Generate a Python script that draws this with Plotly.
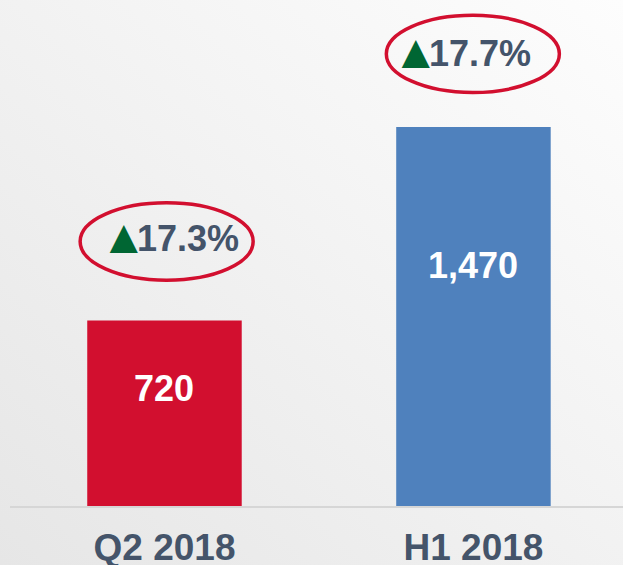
import plotly.graph_objects as go
import base64

categories = ["Q2 2018", "H1 2018"]
values = [720, 1470]
value_labels = ["720", "1,470"]
growth = ["17.3%", "17.7%"]
bar_colors = ["#D20F2F", "#4F81BD"]

# layout-only tweaks (offsets of the growth callouts relative to each bar)
callout_dy = [318, 285]        # text centre above bar top (data units)
callout_xshift = [-29, -46]    # px, left edge of percentage text from bar centre
ellipse_dx = [0.007, -0.002]
ellipse_dy = [306, 284]
ellipse_hw = 0.28
ellipse_hh = 150

W, H = 623, 565
svg = (
    '<svg xmlns="http://www.w3.org/2000/svg" width="623" height="565" viewBox="0 0 623 565" preserveAspectRatio="none">'
    '<defs><linearGradient id="g" x1="0" y1="1" x2="1" y2="0">'
    '<stop offset="0" stop-color="#e6e6e6"/><stop offset="0.6" stop-color="#f4f4f4"/>'
    '<stop offset="1" stop-color="#fdfdfd"/></linearGradient></defs>'
    '<rect width="623" height="565" fill="url(#g)"/></svg>'
)
src = "data:image/svg+xml;base64," + base64.b64encode(svg.encode()).decode()

fig = go.Figure()
fig.add_trace(go.Bar(
    x=categories, y=values, width=0.5,
    marker=dict(color=bar_colors, line=dict(width=0)),
    hoverinfo="skip",
))

FONT = "Liberation Sans, Arial, sans-serif"
annotations = []
shapes = []
for i, (cat, v, lab, g) in enumerate(zip(categories, values, value_labels, growth)):
    annotations.append(dict(
        x=cat, y=v * 0.635, xref="x", yref="y", text="<b>" + lab + "</b>", showarrow=False,
        font=dict(family=FONT, size=36, color="white"),
        xanchor="center", yanchor="middle",
    ))
    annotations.append(dict(
        x=cat, y=v + callout_dy[i], xref="x", yref="y",
        text="<b>" + g + "</b>", showarrow=False,
        font=dict(family=FONT, size=36, color="#44546A"),
        xanchor="left", yanchor="middle", xshift=callout_xshift[i],
    ))
    annotations.append(dict(
        x=cat, y=v + callout_dy[i], xref="x", yref="y",
        text="▲", showarrow=False,
        font=dict(family=FONT, size=48, color="#006633"),
        xanchor="right", yanchor="middle", xshift=callout_xshift[i] + 15, yshift=2,
    ))
    cx = i + ellipse_dx[i]
    cy = v + ellipse_dy[i]
    shapes.append(dict(
        type="circle", xref="x", yref="y",
        x0=cx - ellipse_hw, x1=cx + ellipse_hw, y0=cy - ellipse_hh, y1=cy + ellipse_hh,
        line=dict(color="#D20F2F", width=3.5), fillcolor="rgba(0,0,0,0)",
    ))

fig.update_layout(
    width=W, height=H,
    margin=dict(l=10, r=0, t=0, b=59, autoexpand=False),
    paper_bgcolor="#f0f0f0", plot_bgcolor="rgba(0,0,0,0)",
    showlegend=False,
    images=[dict(source=src, xref="paper", yref="paper", x=-10/613, y=1,
                 sizex=623/613, sizey=565/506, sizing="stretch",
                 xanchor="left", yanchor="top", layer="below")],
    annotations=annotations,
    shapes=shapes,
    xaxis=dict(
        type="category", range=[-0.5, 1.484], showgrid=False, zeroline=False,
        showline=True, linecolor="#d6d6d6", linewidth=2, ticks="",
        tickfont=dict(family=FONT, size=37, color="#44546A"),
        tickprefix="<b>", ticksuffix="</b>",
        ticklabelstandoff=8, fixedrange=True, automargin=False,
    ),
    yaxis=dict(range=[0, 1963], visible=False, fixedrange=True, automargin=False),
)

fig.write_html(
    "out.html",
    config={"displayModeBar": False, "staticPlot": True},
    post_script="document.body.style.margin='0';document.body.style.overflow='hidden';",
)
